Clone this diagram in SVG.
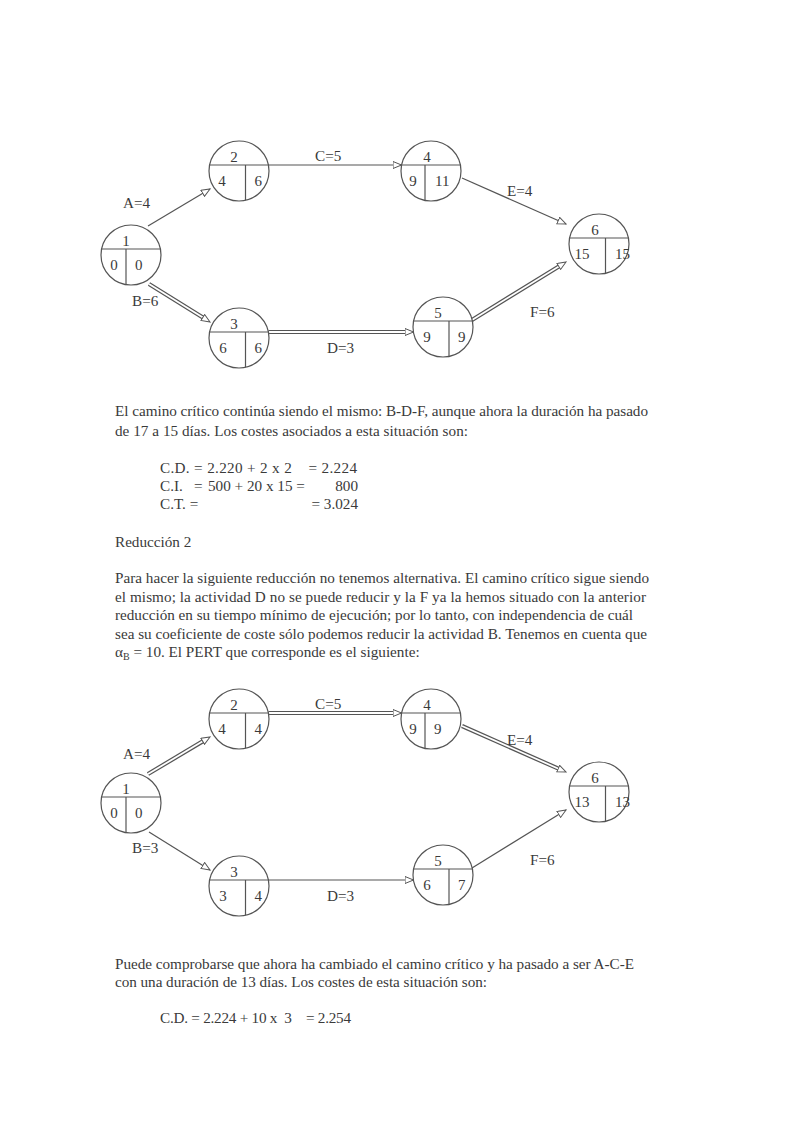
<svg xmlns="http://www.w3.org/2000/svg" width="793" height="1122" viewBox="0 0 793 1122">
<style>
  text { font-family: "Liberation Serif", "Times New Roman", serif; fill: #3a3a3a; }
  .t { font-size: 15.2px; }
  .n { font-size: 15px; }
  .lbl { font-size: 15.2px; }
  .node circle { fill: #fff; stroke: #555; stroke-width: 1.2; }
  .node line { stroke: #555; stroke-width: 1.2; }
  .edge { fill: none; stroke: #555; stroke-width: 1.2; marker-end: url(#arr); }
  .ghost { fill: none; stroke: none; marker-end: url(#arr); }
  .dbl { fill: none; stroke: #555; stroke-width: 4.2; }
  .dblin { fill: none; stroke: #fff; stroke-width: 1.8; }
</style>
<defs>
  <marker id="arr" markerUnits="userSpaceOnUse" markerWidth="12" markerHeight="10" refX="9" refY="4" orient="auto">
    <path d="M0.5,0.5 L9,4 L0.5,7.5 z" fill="#fff" stroke="#555" stroke-width="1"/>
  </marker>
</defs>
<rect width="793" height="1122" fill="#fff"/>

<!-- ===== Diagram 1 connectors ===== -->
<g id="connectors1">
  <g id="e1-A"><line class="edge" x1="148" y1="226" x2="210" y2="189"/></g>
  <g id="e1-B"><line class="dbl" x1="149" y1="284" x2="204.1" y2="318.3"/><line class="dblin" x1="149" y1="284" x2="204.1" y2="318.3"/><line class="ghost" x1="149" y1="284" x2="210" y2="322"/></g>
  <g id="e1-C"><line class="edge" x1="268.5" y1="165" x2="401.5" y2="165"/></g>
  <g id="e1-D"><line class="dbl" x1="268.5" y1="332" x2="406.5" y2="332"/><line class="dblin" x1="268.5" y1="332" x2="406.5" y2="332"/><line class="ghost" x1="268.5" y1="332" x2="413.5" y2="332"/></g>
  <g id="e1-E"><line class="edge" x1="462" y1="178" x2="566" y2="224"/></g>
  <g id="e1-F"><line class="dbl" x1="472" y1="320" x2="560" y2="265.7"/><line class="dblin" x1="472" y1="320" x2="560" y2="265.7"/><line class="ghost" x1="472" y1="320" x2="566" y2="262"/></g>
  <text class="lbl" x="315" y="161">C=5</text>
  <text class="lbl" x="123" y="208">A=4</text>
  <text class="lbl" x="132" y="306">B=6</text>
  <text class="lbl" x="327" y="353">D=3</text>
  <text class="lbl" x="507" y="196">E=4</text>
  <text class="lbl" x="530" y="317">F=6</text>
</g>

<!-- ===== Diagram 1 nodes ===== -->
<g id="n1-1" class="node">
  <circle cx="131" cy="255" r="30"/>
  <line x1="101.6" y1="249" x2="160.4" y2="249"/><line x1="126" y1="249" x2="126" y2="284.6"/>
  <text class="n" x="126" y="246" text-anchor="middle">1</text>
  <text class="n" x="114" y="270" text-anchor="middle">0</text>
  <text class="n" x="135" y="270">0</text>
</g>
<g id="n1-2" class="node">
  <circle cx="239" cy="171" r="30"/>
  <line x1="209.6" y1="165" x2="268.4" y2="165"/><line x1="245.5" y1="165" x2="245.5" y2="200.3"/>
  <text class="n" x="234" y="162" text-anchor="middle">2</text>
  <text class="n" x="222" y="186" text-anchor="middle">4</text>
  <text class="n" x="254.5" y="186">6</text>
</g>
<g id="n1-3" class="node">
  <circle cx="239" cy="338" r="30"/>
  <line x1="209.6" y1="332" x2="268.4" y2="332"/><line x1="245.5" y1="332" x2="245.5" y2="367.3"/>
  <text class="n" x="234" y="329" text-anchor="middle">3</text>
  <text class="n" x="223" y="353" text-anchor="middle">6</text>
  <text class="n" x="254.5" y="353">6</text>
</g>
<g id="n1-4" class="node">
  <circle cx="431" cy="171" r="30"/>
  <line x1="401.6" y1="165" x2="460.4" y2="165"/><line x1="425" y1="165" x2="425" y2="200.4"/>
  <text class="n" x="427" y="162" text-anchor="middle">4</text>
  <text class="n" x="413" y="186" text-anchor="middle">9</text>
  <text class="n" x="435" y="186">11</text>
</g>
<g id="n1-5" class="node">
  <circle cx="443" cy="327" r="30"/>
  <line x1="413.6" y1="321" x2="472.4" y2="321"/><line x1="449" y1="321" x2="449" y2="356.4"/>
  <text class="n" x="438" y="318" text-anchor="middle">5</text>
  <text class="n" x="427" y="342" text-anchor="middle">9</text>
  <text class="n" x="458" y="342">9</text>
</g>
<g id="n1-6" class="node">
  <circle cx="599" cy="244" r="30"/>
  <line x1="569.6" y1="238" x2="628.4" y2="238"/><line x1="605.5" y1="238" x2="605.5" y2="273.3"/>
  <text class="n" x="595" y="235" text-anchor="middle">6</text>
  <text class="n" x="582" y="259" text-anchor="middle">15</text>
  <text class="n" x="615" y="259">15</text>
</g>

<!-- ===== Text block 1 ===== -->
<g id="text1">
  <text class="t" x="115" y="416" textLength="533">El camino crítico continúa siendo el mismo: B-D-F, aunque ahora la duración ha pasado</text>
  <text class="t" x="115" y="436" textLength="353">de 17 a 15 días. Los costes asociados a esta situación son:</text>
  <text class="t" x="160" y="473" xml:space="preserve" textLength="197">C.D. = 2.220 + 2 x 2    = 2.224</text>
  <text class="t" x="160" y="491">C.I.</text>
  <text class="t" x="194" y="491">=</text>
  <text class="t" x="208" y="491">500 + 20 x 15 =</text>
  <text class="t" x="358" y="491" text-anchor="end">800</text>
  <text class="t" x="160" y="509">C.T. =</text>
  <text class="t" x="358" y="509" text-anchor="end">= 3.024</text>
  <text class="t" x="115" y="547">Reducción 2</text>
  <text class="t" x="115" y="583" textLength="534">Para hacer la siguiente reducción no tenemos alternativa. El camino crítico sigue siendo</text>
  <text class="t" x="115" y="601.5" textLength="531">el mismo; la actividad D no se puede reducir y la F ya la hemos situado con la anterior</text>
  <text class="t" x="115" y="620" textLength="518">reducción en su tiempo mínimo de ejecución; por lo tanto, con independencia de cuál</text>
  <text class="t" x="115" y="638.5" textLength="532">sea su coeficiente de coste sólo podemos reducir la actividad B. Tenemos en cuenta que</text>
  <text class="t" x="115" y="657">α<tspan font-size="10" dy="3">B</tspan><tspan dy="-3"> = 10. El PERT que corresponde es el siguiente:</tspan></text>
</g>

<!-- ===== Diagram 2 connectors ===== -->
<g id="connectors2">
  <g id="e2-A"><line class="dbl" x1="148" y1="774" x2="204" y2="740.6"/><line class="dblin" x1="148" y1="774" x2="204" y2="740.6"/><line class="ghost" x1="148" y1="774" x2="210" y2="737"/></g>
  <g id="e2-B"><line class="edge" x1="149" y1="832" x2="210" y2="870"/></g>
  <g id="e2-C"><line class="dbl" x1="268.5" y1="713" x2="394.5" y2="713"/><line class="dblin" x1="268.5" y1="713" x2="394.5" y2="713"/><line class="ghost" x1="268.5" y1="713" x2="401.5" y2="713"/></g>
  <g id="e2-D"><line class="edge" x1="268.5" y1="880" x2="413.5" y2="880"/></g>
  <g id="e2-E"><line class="dbl" x1="462" y1="726" x2="559.6" y2="769.2"/><line class="dblin" x1="462" y1="726" x2="559.6" y2="769.2"/><line class="ghost" x1="462" y1="726" x2="566" y2="772"/></g>
  <g id="e2-F"><line class="edge" x1="472" y1="868" x2="566" y2="810"/></g>
  <text class="lbl" x="315" y="709">C=5</text>
  <text class="lbl" x="123" y="759">A=4</text>
  <text class="lbl" x="132" y="853">B=3</text>
  <text class="lbl" x="327" y="901">D=3</text>
  <text class="lbl" x="507" y="745">E=4</text>
  <text class="lbl" x="530" y="865">F=6</text>
</g>

<!-- ===== Diagram 2 nodes ===== -->
<g id="n2-1" class="node">
  <circle cx="131" cy="803" r="30"/>
  <line x1="101.6" y1="797" x2="160.4" y2="797"/><line x1="126" y1="797" x2="126" y2="832.6"/>
  <text class="n" x="126" y="794" text-anchor="middle">1</text>
  <text class="n" x="114" y="818" text-anchor="middle">0</text>
  <text class="n" x="135" y="818">0</text>
</g>
<g id="n2-2" class="node">
  <circle cx="239" cy="719" r="30"/>
  <line x1="209.6" y1="713" x2="268.4" y2="713"/><line x1="245.5" y1="713" x2="245.5" y2="748.3"/>
  <text class="n" x="234" y="710" text-anchor="middle">2</text>
  <text class="n" x="222" y="734" text-anchor="middle">4</text>
  <text class="n" x="254.5" y="734">4</text>
</g>
<g id="n2-3" class="node">
  <circle cx="239" cy="886" r="30"/>
  <line x1="209.6" y1="880" x2="268.4" y2="880"/><line x1="245.5" y1="880" x2="245.5" y2="915.3"/>
  <text class="n" x="234" y="877" text-anchor="middle">3</text>
  <text class="n" x="223" y="901" text-anchor="middle">3</text>
  <text class="n" x="254.5" y="901">4</text>
</g>
<g id="n2-4" class="node">
  <circle cx="431" cy="719" r="30"/>
  <line x1="401.6" y1="713" x2="460.4" y2="713"/><line x1="425" y1="713" x2="425" y2="748.4"/>
  <text class="n" x="427" y="710" text-anchor="middle">4</text>
  <text class="n" x="413" y="734" text-anchor="middle">9</text>
  <text class="n" x="434" y="734">9</text>
</g>
<g id="n2-5" class="node">
  <circle cx="443" cy="875" r="30"/>
  <line x1="413.6" y1="869" x2="472.4" y2="869"/><line x1="449" y1="869" x2="449" y2="904.4"/>
  <text class="n" x="438" y="866" text-anchor="middle">5</text>
  <text class="n" x="427" y="890" text-anchor="middle">6</text>
  <text class="n" x="458" y="890">7</text>
</g>
<g id="n2-6" class="node">
  <circle cx="599" cy="792" r="30"/>
  <line x1="569.6" y1="786" x2="628.4" y2="786"/><line x1="605.5" y1="786" x2="605.5" y2="821.3"/>
  <text class="n" x="595" y="783" text-anchor="middle">6</text>
  <text class="n" x="582" y="807" text-anchor="middle">13</text>
  <text class="n" x="615" y="807">13</text>
</g>

<!-- ===== Text block 2 ===== -->
<g id="text2">
  <text class="t" x="115" y="969" textLength="519">Puede comprobarse que ahora ha cambiado el camino crítico y ha pasado a ser A-C-E</text>
  <text class="t" x="115" y="987" textLength="372">con una duración de 13 días. Los costes de esta situación son:</text>
  <text class="t" x="160" y="1023" xml:space="preserve" textLength="191">C.D. = 2.224 + 10 x  3    = 2.254</text>
</g>
</svg>
